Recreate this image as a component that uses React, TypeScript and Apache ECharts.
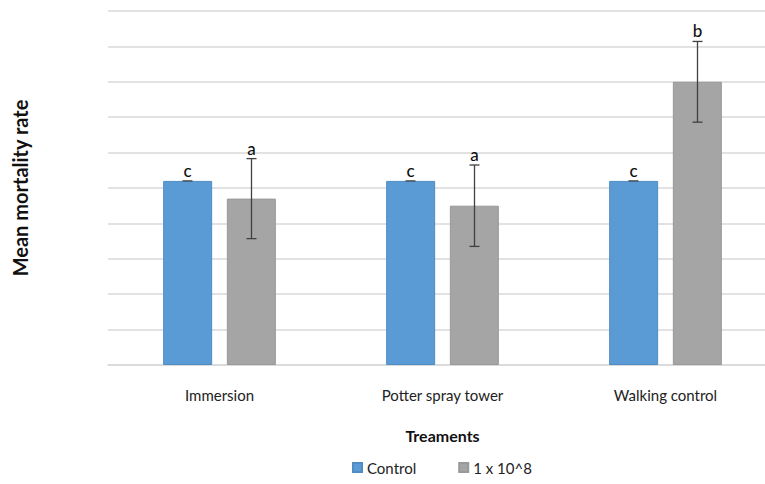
import React, { useEffect, useRef } from "react";
import * as echarts from "echarts";

const categories = ["Immersion", "Potter spray tower", "Walking control"];
const seriesNames = ["Control", "1 x 10^8"];
const controlValues = [0.52, 0.52, 0.52];
const controlErrors = [0, 0, 0];
const controlLetters = ["c", "c", "c"];
const treatedValues = [0.47, 0.45, 0.8];
const treatedErrors = [0.113, 0.115, 0.114];
const treatedLetters = ["a", "a", "b"];

const FONT = "Lato, 'Open Sans', sans-serif";

function errorSeries(values: number[], errors: number[], letters: string[], offset: number) {
  return {
    type: "custom",
    silent: true,
    z: 10,
    data: values.map((v, i) => [i, v, errors[i]]),
    encode: { x: 0, y: 1 },
    renderItem: (params: any, api: any) => {
      const i = api.value(0);
      const v = api.value(1);
      const e = api.value(2);
      const top = api.coord([i, v + e]);
      const bot = api.coord([i, v - e]);
      const x = top[0] + offset;
      const cap = 5;
      const lineStyle = { stroke: "#404040", lineWidth: 1.3 };
      const children: any[] = [];
      if (e > 0) {
        children.push({ type: "line", shape: { x1: x, y1: top[1], x2: x, y2: bot[1] }, style: lineStyle });
        children.push({ type: "line", shape: { x1: x - cap, y1: bot[1], x2: x + cap, y2: bot[1] }, style: lineStyle });
      }
      children.push({ type: "line", shape: { x1: x - cap, y1: top[1], x2: x + cap, y2: top[1] }, style: lineStyle });
      children.push({
        type: "text",
        style: {
          text: letters[params.dataIndex],
          x: x,
          y: top[1] - 2,
          align: "center",
          verticalAlign: "bottom",
          fill: "#111111",
          fontSize: 17,
          fontWeight: 500,
          fontFamily: FONT,
        },
      });
      return { type: "group", children };
    },
  };
}

export default function App() {
  const ref = useRef<HTMLDivElement>(null);
  useEffect(() => {
    if (!ref.current) return;
    const chart = echarts.init(ref.current, null, { renderer: "svg" });
    chart.setOption({
      animation: false,
      backgroundColor: "#ffffff",
      grid: { left: 108, width: 669, top: 11, bottom: 119, containLabel: false },
      legend: {
        data: seriesNames,
        left: 347,
        top: 455,
        icon: "rect",
        itemWidth: 9,
        itemHeight: 9,
        itemGap: 42,
        textStyle: { fontFamily: FONT, fontSize: 15, color: "#222222" },
      },
      xAxis: {
        type: "category",
        data: categories,
        name: "Treaments",
        nameLocation: "middle",
        nameGap: 62,
        nameTextStyle: { fontFamily: FONT, fontSize: 16, fontWeight: "bold", color: "#111111" },
        axisLine: { lineStyle: { color: "#d9d9d9", width: 1.5 } },
        axisTick: { show: false },
        axisLabel: { fontFamily: FONT, fontSize: 15, color: "#222222", margin: 22 },
      },
      yAxis: {
        type: "value",
        min: 0,
        max: 1,
        interval: 0.1,
        name: "Mean mortality rate",
        nameLocation: "middle",
        nameGap: 78,
        nameTextStyle: { fontFamily: FONT, fontSize: 20, fontWeight: "bold", color: "#111111" },
        axisLine: { show: false },
        axisTick: { show: false },
        axisLabel: { show: false },
        splitLine: { lineStyle: { color: "#d9d9d9", width: 1.5 } },
      },
      series: [
        {
          name: seriesNames[0],
          type: "bar",
          data: controlValues,
          barWidth: 49,
          barGap: "30%",
          itemStyle: { color: "#5B9BD5", borderColor: "#4f8cc4", borderWidth: 1 },
        },
        {
          name: seriesNames[1],
          type: "bar",
          data: treatedValues,
          barWidth: 49,
          barGap: "30%",
          itemStyle: { color: "#A5A5A5", borderColor: "#999999", borderWidth: 1 },
        },
        errorSeries(controlValues, controlErrors, controlLetters, -32),
        errorSeries(treatedValues, treatedErrors, treatedLetters, 32),
      ],
    });
    return () => chart.dispose();
  }, []);
  return (
    <div style={{ width: 765, height: 484, position: "absolute", left: 0, top: 0, overflow: "hidden" }}>
      <div ref={ref} style={{ width: 790, height: 484 }} />
    </div>
  );
}
